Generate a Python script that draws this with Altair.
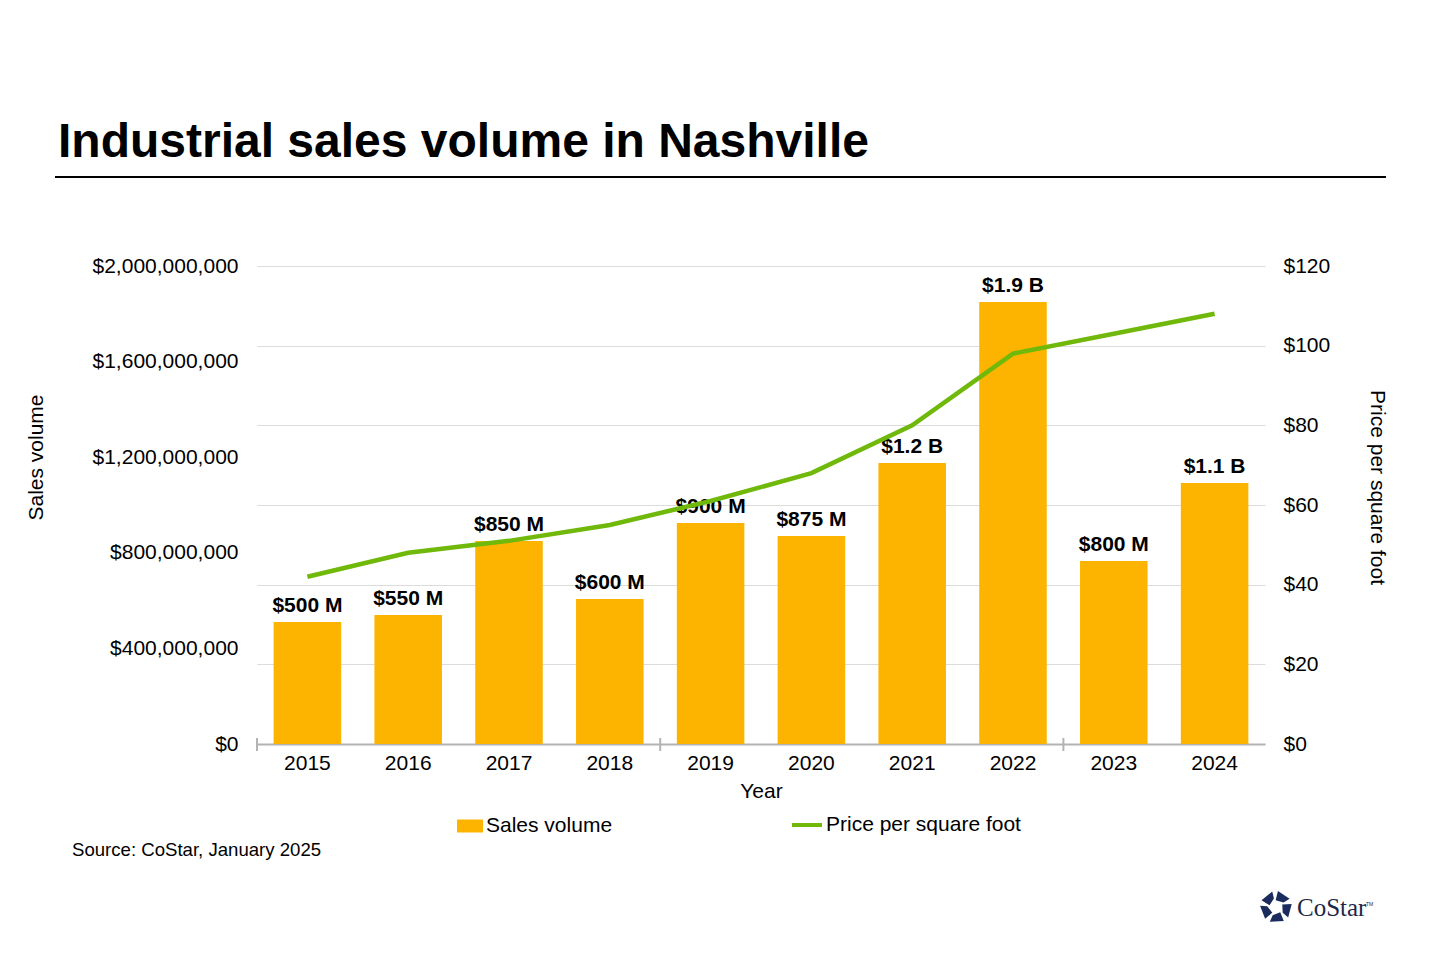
import math
import altair as alt
import pandas as pd

# ---- data ----
years = ["2015", "2016", "2017", "2018", "2019", "2020", "2021", "2022", "2023", "2024"]
sales_volume = [510e6, 540e6, 849e6, 607e6, 925e6, 870e6, 1176e6, 1849e6, 766e6, 1092e6]
sales_labels = ["$500 M", "$550 M", "$850 M", "$600 M", "$900 M", "$875 M",
                "$1.2 B", "$1.9 B", "$800 M", "$1.1 B"]
price_per_sqft = [42, 48, 51, 55, 61, 68, 80, 98, 103, 108]
left_ticks = [0, 400e6, 800e6, 1200e6, 1600e6, 2000e6]
right_ticks = [0, 20, 40, 60, 80, 100, 120]
axis_tick_years = ["2015", "2019", "2023"]

title_text = "Industrial sales volume in Nashville"
source_text = "Source: CoStar, January 2025"

FONT = "Liberation Sans"
W, H = 1008, 478
BAR_COLOR = "#FDB400"
LINE_COLOR = "#70B80A"
FS = 21

df = pd.DataFrame({
    "year": years,
    "sales": sales_volume,
    "label": sales_labels,
    "price": price_per_sqft,
    "s1": ["Sales volume"] * len(years),
    "s2": ["Price per square foot"] * len(years),
})

PAD_IN, PAD_OUT = 0.33, 0.165
xscale = alt.Scale(domain=years, paddingInner=PAD_IN, paddingOuter=PAD_OUT)
x_enc = alt.X("year:N", scale=xscale, sort=years,
              axis=alt.Axis(title="Year", labelAngle=0, ticks=False,
                            domainColor="#B3B3B3", domainWidth=2,
                            labelFontSize=FS, labelPadding=8, labelColor="#000",
                            titleFontSize=FS, titleFontWeight="normal",
                            titleColor="#000", titlePadding=7))

base = alt.Chart(df)

bars = base.mark_bar(color=BAR_COLOR).encode(
    x=x_enc,
    y=alt.Y("sales:Q", scale=alt.Scale(domain=[0, 2e9], nice=False),
            axis=alt.Axis(values=left_ticks, format="$,.0f", grid=False,
                          ticks=False, domain=False, labelFontSize=FS,
                          labelColor="#000", labelPadding=19,
                          title="Sales volume", titleFontSize=FS,
                          titleFontWeight="normal", titleColor="#000",
                          titleX=-221, titleY=191, titleAngle=-90,
                          titleBaseline="middle")),
    fill=alt.Fill("s1:N", scale=alt.Scale(domain=["Sales volume"], range=[BAR_COLOR]),
                  legend=alt.Legend(title=None, orient="none", legendX=200, legendY=547,
                                    symbolType="M-1,-0.5H1V0.5H-1Z", symbolSize=676,
                                    symbolStrokeWidth=0, labelFontSize=FS,
                                    labelColor="#000", labelOffset=3, padding=0,
                                    labelLimit=0)),
)

bar_text = base.mark_text(font=FONT, fontSize=FS, fontWeight="bold", color="#000",
                          baseline="alphabetic", dy=-10).encode(
    x=alt.X("year:N", scale=xscale, sort=years),
    y=alt.Y("sales:Q"),
    text="label:N",
)

step = W / (len(years) - PAD_IN + 2 * PAD_OUT)
tick_df = pd.DataFrame({"year": axis_tick_years})
xticks = alt.Chart(tick_df).mark_rule(color="#B3B3B3", strokeWidth=2,
                                      xOffset=-PAD_IN * step / 2).encode(
    x=alt.X("year:N", scale=xscale, sort=years, bandPosition=0),
    y=alt.value(H - 6), y2=alt.value(H + 7),
)

left_layer = alt.layer(bars, bar_text, xticks)

line = base.mark_line(strokeWidth=4.5).encode(
    x=alt.X("year:N", scale=xscale, sort=years),
    y=alt.Y("price:Q", scale=alt.Scale(domain=[0, 120], nice=False),
            axis=alt.Axis(orient="right", values=right_ticks, format="$,.0f",
                          grid=True, gridColor="#DCDCDC", gridWidth=1,
                          ticks=False, domain=False, labelFontSize=FS,
                          labelColor="#000", labelPadding=18,
                          title="Price per square foot", titleFontSize=FS,
                          titleFontWeight="normal", titleColor="#000",
                          titleX=111, titleY=221, titleAngle=90,
                          titleBaseline="middle")),
    stroke=alt.Stroke("s2:N", scale=alt.Scale(domain=["Price per square foot"], range=[LINE_COLOR]),
                      legend=alt.Legend(title=None, orient="none", legendX=533, legendY=542,
                                        symbolType="stroke", symbolSize=900,
                                        symbolStrokeWidth=4, labelFontSize=FS,
                                        labelColor="#000", labelOffset=2, padding=0,
                                        labelLimit=0)),
)

main = alt.layer(left_layer, line).resolve_scale(y="independent", fill="independent",
                                                  stroke="independent")

# ---- decorations: title, rule, source, logo ----
one = pd.DataFrame({"t": [title_text]})
title = alt.Chart(one).mark_text(font=FONT, fontSize=48, fontWeight="bold", color="#000",
                                 align="left", baseline="alphabetic").encode(
    text="t:N", x=alt.value(58 - 257), y=alt.value(157 - 266))

title_rule = alt.Chart(one).mark_rule(color="#000", strokeWidth=2).encode(
    x=alt.value(55 - 257), x2=alt.value(1386 - 257), y=alt.value(177 - 266))

src = alt.Chart(pd.DataFrame({"t": [source_text]})).mark_text(
    font=FONT, fontSize=18.6, color="#000", align="left", baseline="alphabetic").encode(
    text="t:N", x=alt.value(72 - 257), y=alt.value(856 - 266))

logo_txt = alt.Chart(pd.DataFrame({"t": ["CoStar"]})).mark_text(
    font="Liberation Serif", fontSize=25, color="#1C2848", align="left",
    baseline="alphabetic").encode(text="t:N", x=alt.value(1297 - 257), y=alt.value(916 - 266))
logo_tm = alt.Chart(pd.DataFrame({"t": ["TM"]})).mark_text(
    font=FONT, fontSize=5, color="#1C2848", align="left",
    baseline="alphabetic").encode(text="t:N", x=alt.value(1366 - 257), y=alt.value(906 - 266))

# pinwheel icon path (unit radius)
pieces = []
for k in range(5):
    a0 = math.radians(-90 + 72 * k)
    pts = [(0.42, a0 - 0.05), (1.0, a0 + 0.12), (1.0, a0 + 1.02), (0.55, a0 + 1.02)]
    coords = [(r * math.cos(a), r * math.sin(a)) for r, a in pts]
    seg = "M" + "L".join(f"{x:.3f},{y:.3f}" for x, y in coords) + "Z"
    pieces.append(seg)
icon_path = "".join(pieces)
logo_icon = alt.Chart(pd.DataFrame({"t": ["icon"]})).mark_point(
    shape=icon_path, filled=True, color="#1A2B5E", opacity=1, size=1024, strokeWidth=0).encode(
    x=alt.value(1276 - 257), y=alt.value(907 - 266))

chart = alt.layer(main, title, title_rule, src, logo_txt, logo_tm, logo_icon).properties(
    width=W, height=H,
    autosize=alt.AutoSizeParams(type="none"),
    padding={"left": 249, "top": 258, "right": 160, "bottom": 200},
).configure(font=FONT).configure_view(stroke=None)

chart.save("out.html", embed_options={"renderer": "svg", "actions": False})
